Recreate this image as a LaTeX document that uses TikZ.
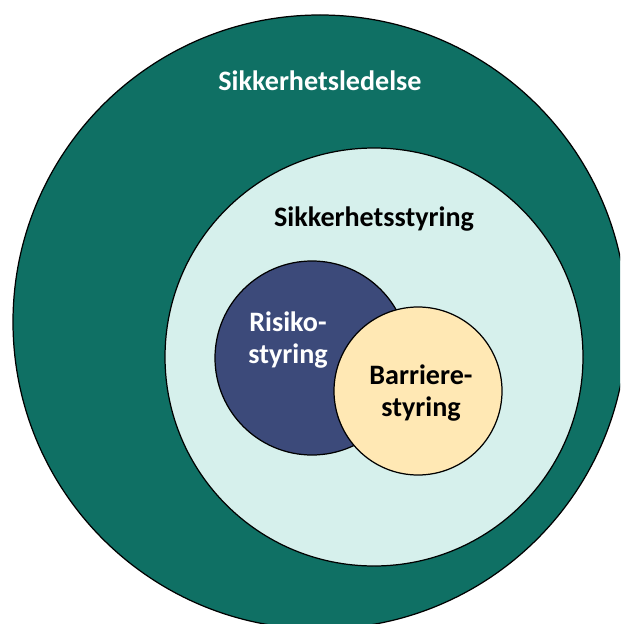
\documentclass[tikz,border=0pt]{standalone}
\usepackage{fontspec}
\setmainfont{Carlito}
\usepackage{tikz}
\usetikzlibrary{positioning}
\definecolor{ledelseColor}{RGB}{15, 112, 100}
\definecolor{styringColor}{RGB}{214, 240, 236}
\definecolor{risikoColor}{RGB}{60, 74, 122}
\definecolor{barriereColor}{RGB}{255, 232, 180}
\tikzset{
    ring/.style={draw=black, line width=0.7pt},
    label/.style={font=\fontsize{16}{17.8}\selectfont\bfseries, align=center, inner sep=0pt}
}

\begin{document}
\begin{tikzpicture}
            \useasboundingbox (0,0) rectangle (12.4,-12.48);
            \clip (0,0) rectangle (12.4,-12.48);
            % rings
            \filldraw[ring, fill=ledelseColor] (6.40,-6.44) circle (6.14);
            \filldraw[ring, fill=styringColor] (7.48,-7.14) circle (4.18);
            \filldraw[ring, fill=risikoColor] (6.24,-7.16) circle (1.94);
            \filldraw[ring, fill=barriereColor] (8.36,-7.82) circle (1.68);
            % labels
            \node[label, white, anchor=base] (ledelse) at (6.40,-1.82) {Sikkerhetsledelse};
            \node[label, black, anchor=base] (styring) at (7.48,-4.52) {Sikkerhetsstyring};
            \node[label, white] (risiko) at (5.76,-6.80) {Risiko-\\styring};
            \node[label, black] (barriere) at (8.42,-7.86) {Barriere-\\styring};
        \end{tikzpicture}
\end{document}
